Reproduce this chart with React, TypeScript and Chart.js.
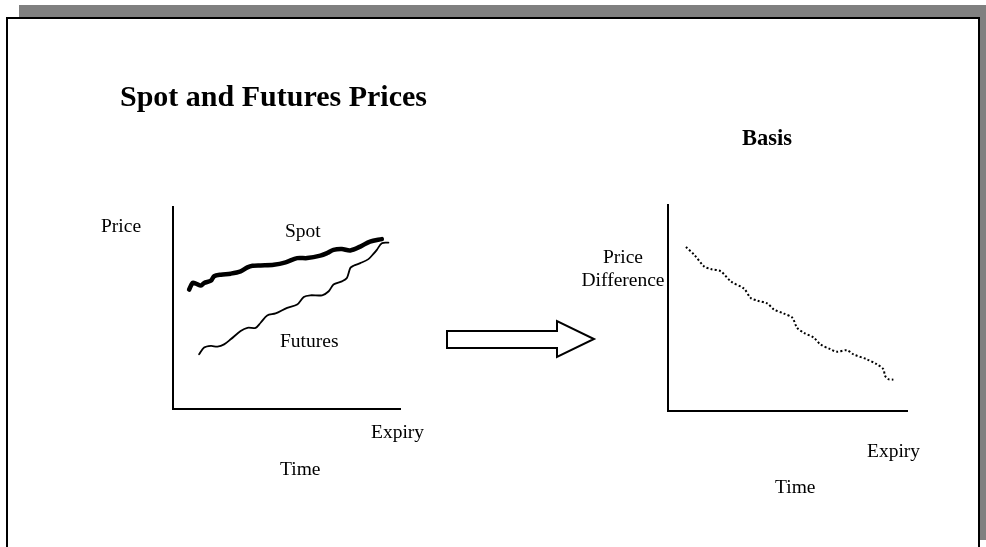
import React, { useEffect, useRef } from "react";
import { Chart, registerables } from "chart.js";

Chart.register(...registerables);

const W = 986;
const H = 547;
const SERIF = '"Liberation Serif", "Times New Roman", Times, serif';

// Left panel: spot and futures prices over time (0..100 arbitrary units)
const spotTime = [7.1, 8.6, 10.1, 12.3, 13.7, 16.7, 18.1, 21.1, 25.4, 29.8, 32.8, 35.0, 38.6, 44.4, 49.6, 54.7, 59.1, 64.9, 67.9, 70.7, 74.4, 78.1, 82.5, 86.8, 92.0];
const spotPrice = [59.1, 62.4, 62.1, 61.1, 62.4, 63.5, 65.7, 66.5, 67.0, 68.1, 70.1, 70.9, 71.1, 71.4, 72.6, 74.7, 74.7, 75.9, 77.2, 78.8, 79.2, 78.5, 80.4, 82.9, 84.1];

const futuresTime = [11.5, 13.7, 16.7, 19.6, 22.5, 25.4, 29.8, 32.8, 36.4, 38.6, 41.5, 45.2, 50.3, 54.7, 57.6, 60.5, 65.7, 68.6, 70.7, 74.4, 76.6, 78.1, 79.5, 82.5, 86.1, 88.3, 89.8, 92.0, 94.9];
const futuresPrice = [27.1, 30.4, 31.2, 30.9, 32.0, 34.5, 38.6, 40.2, 40.2, 42.7, 46.3, 47.3, 50.1, 51.7, 55.5, 56.3, 56.3, 58.3, 61.6, 63.2, 64.9, 69.8, 70.9, 72.2, 74.2, 76.8, 78.8, 82.1, 82.4];

// Right panel: basis (price difference) over time
const basisTime = [7.5, 11.0, 15.1, 17.9, 22.1, 26.3, 31.8, 34.6, 37.4, 41.5, 44.3, 48.5, 52.0, 54.0, 56.8, 61.0, 63.7, 67.9, 70.7, 74.9, 77.6, 83.2, 87.4, 90.1, 90.8, 92.2, 94.3];
const basisDiff = [79.6, 75.8, 70.2, 68.9, 67.8, 62.9, 59.4, 54.9, 53.6, 52.2, 49.3, 47.3, 45.3, 40.4, 38.0, 35.6, 32.4, 30.0, 28.8, 29.5, 27.5, 25.1, 22.7, 20.3, 17.1, 15.5, 15.2];

const axisMin = 0;
const axisMax = 100;

const toPoints = (xs: number[], ys: number[]) => xs.map((x, i) => ({ x, y: ys[i] }));

type Area = { left: number; top: number; right: number; bottom: number };

function AxisChart({ area, kind }: { area: Area; kind: "prices" | "basis" }) {
  const ref = useRef<HTMLCanvasElement>(null);
  useEffect(() => {
    const axis = {
      type: "linear" as const,
      min: axisMin,
      max: axisMax,
      grid: { display: false, drawTicks: false },
      ticks: { display: false },
      border: { display: true, color: "#000", width: 2 },
    };
    const datasets: any[] =
      kind === "prices"
        ? [
            {
              label: "Spot",
              data: toPoints(spotTime, spotPrice),
              borderColor: "#000",
              borderWidth: 4.5,
              borderCapStyle: "round",
              borderJoinStyle: "round",
              tension: 0.3,
              pointRadius: 0,
            },
            {
              label: "Futures",
              data: toPoints(futuresTime, futuresPrice),
              borderColor: "#000",
              borderWidth: 1.8,
              borderCapStyle: "round",
              borderJoinStyle: "round",
              tension: 0.3,
              pointRadius: 0,
            },
          ]
        : [
            {
              label: "Basis",
              data: toPoints(basisTime, basisDiff),
              borderColor: "#000",
              borderWidth: 2,
              borderDash: [2, 2.2],
              borderCapStyle: "butt",
              tension: 0.3,
              pointRadius: 0,
            },
          ];
    const chart = new Chart(ref.current!, {
      type: "line",
      data: { datasets },
      options: {
        animation: false,
        responsive: false,
        events: [],
        layout: {
          padding: { left: area.left, top: area.top, right: W - area.right, bottom: H - area.bottom },
        },
        plugins: { legend: { display: false }, tooltip: { enabled: false }, title: { display: false } },
        scales: { x: { ...axis }, y: { ...axis } } as any,
      },
    });
    return () => chart.destroy();
  }, []);
  return (
    <canvas
      ref={ref}
      width={W}
      height={H}
      style={{ position: "absolute", left: 0, top: 0, width: W, height: H }}
    />
  );
}

function Label({
  text,
  x,
  baseline,
  size,
  bold,
  center,
}: {
  text: string;
  x: number;
  baseline: number;
  size: number;
  bold?: boolean;
  center?: boolean;
}) {
  return (
    <div
      style={{
        position: "absolute",
        left: x,
        top: baseline - 0.8375 * size,
        fontFamily: SERIF,
        fontSize: size,
        lineHeight: `${size}px`,
        fontWeight: bold ? 700 : 400,
        whiteSpace: "nowrap",
        color: "#000",
        transform: center ? "translateX(-50%)" : undefined,
      }}
    >
      {text}
    </div>
  );
}

export default function App() {
  const LBL = 19.5;
  return (
    <div style={{ position: "absolute", left: 0, top: 0, width: W, height: H, overflow: "hidden", background: "#fff" }}>
      <div style={{ position: "absolute", left: 19, top: 5, width: W - 19, height: 535, background: "#808080" }} />
      <div
        style={{
          position: "absolute",
          left: 6,
          top: 17,
          width: 974,
          height: 545,
          boxSizing: "border-box",
          background: "#fff",
          borderTop: "2px solid #000",
          borderLeft: "2px solid #000",
          borderRight: "2px solid #000",
        }}
      />
      <AxisChart kind="prices" area={{ left: 173, top: 207, right: 400, bottom: 409 }} />
      <AxisChart kind="basis" area={{ left: 668, top: 205, right: 907, bottom: 411 }} />

      <Label text="Spot and Futures Prices" x={120} baseline={106} size={30} bold />
      <Label text="Price" x={101} baseline={232} size={LBL} />
      <Label text="Spot" x={285} baseline={237} size={LBL} />
      <Label text="Futures" x={280} baseline={347} size={LBL} />
      <Label text="Expiry" x={371} baseline={438} size={LBL} />
      <Label text="Time" x={280} baseline={475} size={LBL} />

      <Label text="Basis" x={742} baseline={146} size={22.5} bold />
      <Label text="Price" x={623} baseline={263} size={LBL} center />
      <Label text="Difference" x={623} baseline={286} size={LBL} center />
      <Label text="Expiry" x={867} baseline={457} size={LBL} />
      <Label text="Time" x={775} baseline={493} size={LBL} />

      <svg width={W} height={H} style={{ position: "absolute", left: 0, top: 0 }}>
        <polygon
          points="447,331 557,331 557,321 594,339 557,357 557,348 447,348"
          fill="#fff"
          stroke="#000"
          strokeWidth={2}
          strokeLinejoin="miter"
        />
      </svg>
    </div>
  );
}
